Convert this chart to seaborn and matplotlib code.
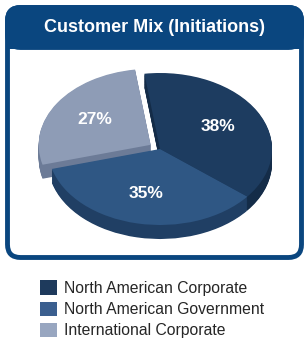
import numpy as np
import seaborn as sns
import matplotlib.pyplot as plt
from matplotlib.patches import FancyBboxPatch

# data
labels = ['North American Corporate', 'North American Government', 'International Corporate']
shares = [38, 35, 27]
top_colors = ['#1d3c60', '#2f5784', '#8e9cb6']
side_colors = ['#142c48', '#203f64', '#6c7b97']
legend_colors = ['#1e3a5c', '#3b5f8f', '#98a6c0']
explode = [0, 0, 0.1]
title = 'Customer Mix (Initiations)'

sns.set_style('white')
plt.rcParams['font.family'] = ['Liberation Sans', 'DejaVu Sans']

W, H = 305, 348
fig = plt.figure(figsize=(W / 100, H / 100), dpi=100)

# background axes in pixel coordinates for the frame
bg = fig.add_axes([0, 0, 1, 1])
bg.set_xlim(0, W)
bg.set_ylim(H, 0)
bg.axis('off')
navy = '#0a467f'
frame = FancyBboxPatch((7.5, 7.5), 294, 250, boxstyle='round,pad=0,rounding_size=13',
                       facecolor='white', edgecolor=navy, linewidth=3.5)
bg.add_patch(frame)
header = FancyBboxPatch((7.5, 7.5), 294, 40, boxstyle='round,pad=0,rounding_size=13',
                        facecolor=navy, edgecolor=navy, linewidth=3.5)
bg.add_patch(header)
bg.add_patch(plt.Rectangle((6, 34), 297, 14.5, facecolor=navy, edgecolor='none'))
bg.text(154, 28, title, color='white', fontsize=13, fontweight='bold',
        ha='center', va='center')

# pie axes, flattened to look tilted
cx, cy, rx, ry = 160, 149, 112, 76
x0, x1, y0, y1 = -1.2, 1.2, -1.4, 1.2
left = cx + x0 * rx
top = cy - y1 * ry
bottom = cy - y0 * ry
ax = fig.add_axes([left / W, 1 - bottom / H, (x1 - x0) * rx / W, (bottom - top) / H])
depth = 14 / ry
for off in np.linspace(-depth, 0, 20)[:-1]:
    ax.pie(shares, colors=side_colors, explode=explode, startangle=98,
           counterclock=False, center=(0, off), radius=1,
           wedgeprops=dict(linewidth=0))
wedges, texts, autotexts = ax.pie(
    shares, colors=top_colors, explode=explode, startangle=98, counterclock=False,
    autopct='%d%%', pctdistance=0.6, radius=1,
    wedgeprops=dict(linewidth=0),
    textprops=dict(color='white', fontsize=12.5, fontweight='bold'))
ax.set_aspect('auto')
ax.set_xlim(x0, x1)
ax.set_ylim(y0, y1)
ax.axis('off')

handles = [plt.Rectangle((0, 0), 1, 1, facecolor=c, edgecolor='none') for c in legend_colors]
fig.legend(handles, labels, loc='upper left', bbox_to_anchor=(34 / W, 1 - 274 / H),
           frameon=False, fontsize=11.3, handlelength=1.05, handleheight=1.05,
           handletextpad=0.45, labelspacing=0.36, borderaxespad=0)

fig.savefig('out.png', dpi=100)
